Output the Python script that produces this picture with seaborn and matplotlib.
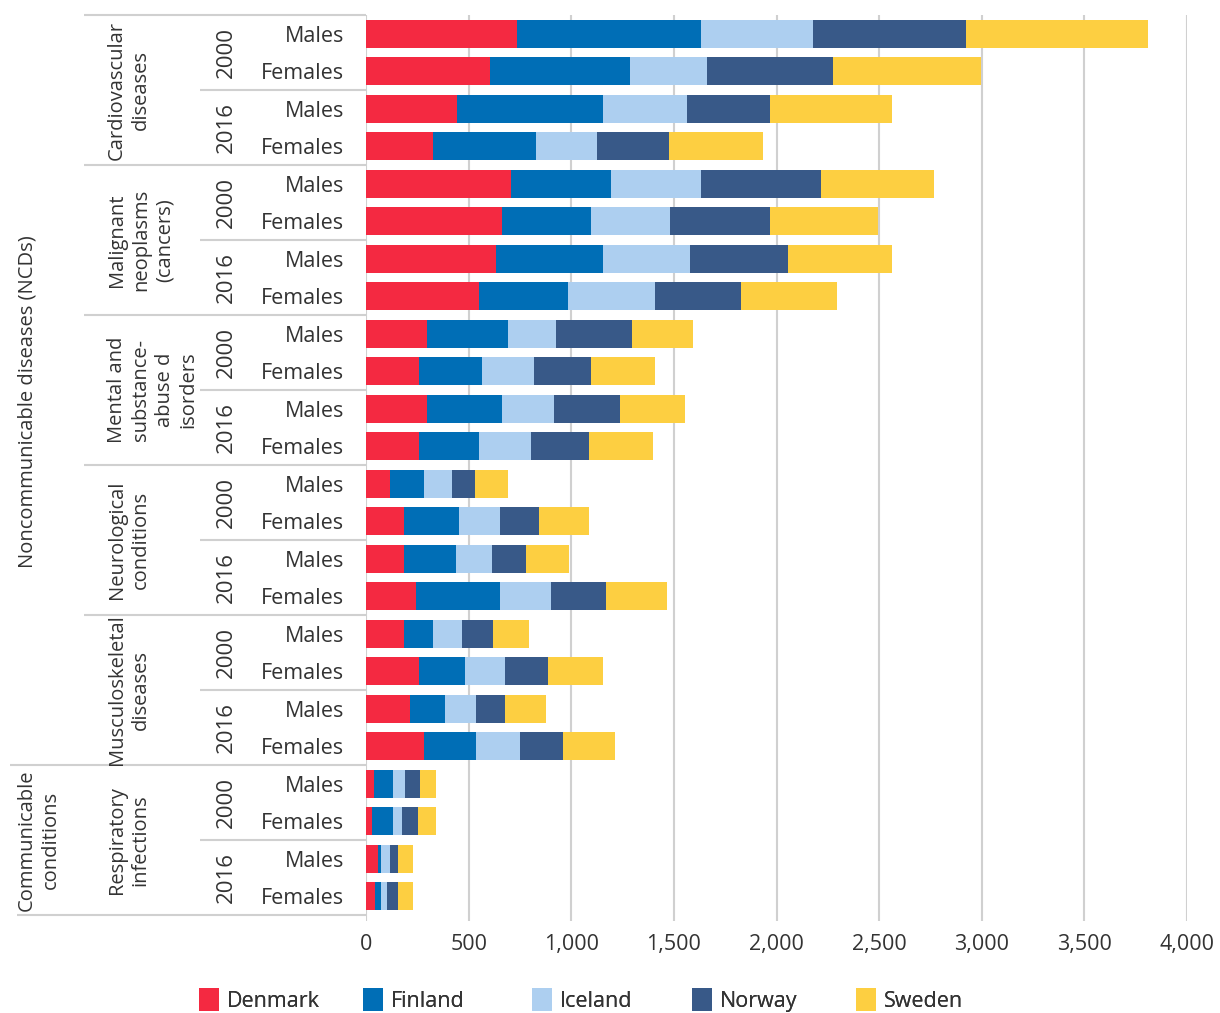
import numpy as np
import pandas as pd
import matplotlib
matplotlib.use("Agg")
import matplotlib.pyplot as plt
import seaborn as sns
from matplotlib.transforms import blended_transform_factory
from matplotlib.patches import Patch

# ---------------- data ----------------
groups = ["Noncommunicable diseases (NCDs)", "Communicable\nconditions"]
diseases = ["Cardiovascular\ndiseases", "Malignant\nneoplasms\n(cancers)",
            "Mental and\nsubstance-\nabuse d\nisorders", "Neurological\nconditions",
            "Musculoskeletal\ndiseases", "Respiratory\ninfections"]
years = ["2000", "2016"]
sexes = ["Males", "Females"]
countries = ["Denmark", "Finland", "Iceland", "Norway", "Sweden"]

denmark = [737, 604, 445, 328, 708, 664, 635, 552, 299, 260, 299, 260,
           119, 187, 187, 245, 187, 260, 216, 284, 41, 31, 60, 46]
finland = [896, 682, 711, 502, 487, 433, 521, 433, 394, 307, 365, 292,
           165, 268, 253, 409, 141, 224, 171, 254, 92, 102, 15, 29]
iceland = [545, 376, 409, 297, 438, 385, 424, 424, 234, 253, 253, 253,
           137, 199, 175, 249, 141, 195, 151, 214, 59, 44, 44, 29]
norway = [745, 614, 404, 350, 584, 487, 477, 419, 370, 277, 322, 283,
          112, 190, 166, 267, 151, 209, 141, 209, 73, 78, 39, 54]
sweden = [887, 722, 594, 458, 551, 526, 506, 467, 297, 312, 316, 311,
          160, 244, 209, 297, 176, 268, 199, 253, 78, 88, 73, 73]

colors = ["#F42941", "#006EB6", "#ADCFF0", "#385988", "#FDCF41"]
text_color = "#333333"
line_color = "#d0d0d0"

# ---------------- table ----------------
rows = []
for d in range(len(diseases)):
    for y in years:
        for s in sexes:
            rows.append((d, y, s))
row_ids = [f"r{i:02d}" for i in range(len(rows))]
df = pd.DataFrame({"row": row_ids,
                   "Denmark": denmark, "Finland": finland, "Iceland": iceland,
                   "Norway": norway, "Sweden": sweden})
cum = df[countries].cumsum(axis=1)

# ---------------- figure ----------------
sns.set_style("white")
plt.rcParams["font.family"] = ["Open Sans", "DejaVu Sans"]
plt.rcParams["text.color"] = text_color

W, H = 1220, 1013
fig = plt.figure(figsize=(W / 100, H / 100), dpi=100)
left_px, right_px, top_px, bot_px = 366, 1187, 15, 921
ax = fig.add_axes([left_px / W, 1 - bot_px / H, (right_px - left_px) / W, (bot_px - top_px) / H])

for c, col in reversed(list(zip(countries, colors))):
    sns.barplot(x=cum[c].values, y=df["row"], order=row_ids, orient="h",
                color=col, saturation=1, errorbar=None, width=0.74,
                linewidth=0, edgecolor="none", ax=ax)

ax.set_xlim(0, 4000)
ax.set_ylim(23.5 + 0.16, -0.5)
ax.set_xticks(np.arange(0, 4001, 500))
ax.set_xticklabels([f"{v:,}" for v in range(0, 4001, 500)])
ax.set_yticks(range(len(rows)))
ax.set_yticklabels([r[2] for r in rows])
ax.tick_params(axis="both", length=0, labelsize=15.5, labelcolor=text_color)
ax.tick_params(axis="y", pad=16)
ax.tick_params(axis="x", pad=9)
ax.set_xlabel("")
ax.set_ylabel("")
for sp in ax.spines.values():
    sp.set_visible(False)
ax.grid(axis="x", color=line_color, linewidth=1.5)
ax.set_axisbelow(True)

# ---------------- hierarchical labels ----------------
axw = right_px - left_px
def fx(px):
    return (px - left_px) / axw

tr = blended_transform_factory(ax.transAxes, ax.transData)

def hline(ypos, x0px):
    ax.plot([fx(x0px), 0], [ypos, ypos], color=line_color, lw=1.5,
            transform=tr, clip_on=False, solid_capstyle="butt")

# year labels and year separators
for i in range(0, len(rows), 2):
    ax.text(fx(226), i + 0.5, rows[i][1], rotation=90, ha="center", va="center",
            fontsize=16, color=text_color, transform=tr)
    if i % 4 == 2:
        hline(i - 0.5, 200)

# disease labels and separators
for d in range(len(diseases)):
    i0 = d * 4
    ax.text(fx(107), i0 + 1.5, diseases[d], rotation=90, ha="left", va="center",
            fontsize=14.5, color=text_color, transform=tr, multialignment="center",
            linespacing=1.25)
    if d not in (0, 5):
        hline(i0 - 0.5, 84)

hline(-0.5, 84)
hline(19.5, 10)
hline(23.5, 17)

ax.text(fx(17), 9.8, groups[0], rotation=90, ha="left", va="center",
        fontsize=14.5, color=text_color, transform=tr)
ax.text(fx(17), 21.5, groups[1], rotation=90, ha="left", va="center",
        fontsize=14.5, color=text_color, transform=tr, multialignment="center",
        linespacing=1.25)

# ---------------- legend (one entry per country, placed in a row) ----------------
legend_x_px = [199, 363, 532, 692, 856]
for c, col, xp in zip(countries, colors, legend_x_px):
    leg = fig.legend([Patch(facecolor=col, edgecolor="none")], [c],
                     loc="center left", bbox_to_anchor=(xp / W, 1 - 1000 / H),
                     frameon=False, fontsize=15.5, handlelength=0.95, handleheight=1.25,
                     handletextpad=0.35, borderpad=0, borderaxespad=0,
                     labelcolor=text_color)
    fig.add_artist(leg)

fig.savefig("out.png", dpi=100)
